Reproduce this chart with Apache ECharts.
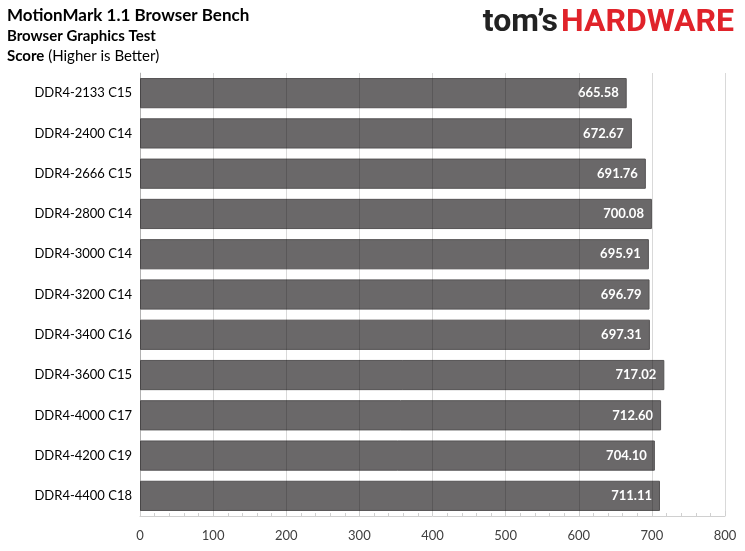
<!DOCTYPE html>
<html><head><meta charset="utf-8">
<script src="https://cdn.jsdelivr.net/npm/echarts@6/dist/echarts.min.js"></script>
<style>html,body{margin:0;padding:0;background:#fff}#c{width:745px;height:551px}</style>
</head><body><div id="c"></div>
<script>
const categories = ["DDR4-2133 C15","DDR4-2400 C14","DDR4-2666 C15","DDR4-2800 C14","DDR4-3000 C14","DDR4-3200 C14","DDR4-3400 C16","DDR4-3600 C15","DDR4-4000 C17","DDR4-4200 C19","DDR4-4400 C18"];
const scores = [665.58,672.67,691.76,700.08,695.91,696.79,697.31,717.02,712.60,704.10,711.11];
const xTicks = [0,100,200,300,400,500,600,700,800];

const chart = echarts.init(document.getElementById('c'), null, {renderer:'canvas'});
const FF = 'Lato, "Open Sans", sans-serif';
chart.setOption({
  animation:false,
  backgroundColor:'#fff',
  graphic:[
    {type:'text', left:7, top:7, style:{text:'MotionMark 1.1 Browser Bench', font:'bold 17px '+FF, fill:'#000'}},
    {type:'text', left:7, top:29, style:{text:'Browser Graphics Test', font:'bold 15px '+FF, fill:'#000'}},
    {type:'text', left:7, top:49, style:{text:'{b|Score} (Higher is Better)', font:'15px '+FF, fill:'#000', rich:{b:{fontWeight:'bold', fontSize:15, fontFamily:FF, fill:'#000'}}}},
    {type:'text', right:11, top:7, style:{text:"{t|tom’s}{h|HARDWARE}", rich:{
      t:{fontFamily:'Roboto, sans-serif', fontWeight:'bold', fontSize:32, fill:'#222'},
      h:{fontFamily:'Roboto, sans-serif', fontWeight:'bold', fontSize:32, fill:'#e0232a', padding:[0,0,0,3]}}}}
  ],
  grid:{left:140, right:20, top:73, bottom:35, containLabel:false},
  xAxis:{
    type:'value', min:0, max:800, interval:100, z:5,
    axisLine:{show:true, lineStyle:{color:'#d0d0d0'}},
    axisTick:{show:true, inside:true, length:5, lineStyle:{color:'#d0d0d0'}},
    minorTick:{show:true, splitNumber:5, length:3, lineStyle:{color:'#d0d0d0'}},
    splitLine:{show:true, lineStyle:{color:'rgba(0,0,0,0.15)', width:1}},
    axisLabel:{color:'#404040', fontSize:13, fontFamily:FF, margin:13,
      formatter:v=>xTicks.includes(v)?String(v):''}
  },
  yAxis:{
    type:'category', data:categories, inverse:true,
    axisLine:{show:true, lineStyle:{color:'#d0d0d0'}},
    axisTick:{show:false},
    axisLabel:{color:'#000', fontSize:13, fontFamily:FF, margin:8}
  },
  series:[{
    type:'bar', data:scores, barCategoryGap:'25%',
    itemStyle:{color:'#6a6869', borderColor:'#555354', borderWidth:1},
    label:{show:true, position:'insideRight', distance:8, color:'#fff', fontWeight:'bold', fontSize:13, fontFamily:FF,
      formatter:p=>p.value.toFixed(2)}
  }]
});
</script></body></html>
